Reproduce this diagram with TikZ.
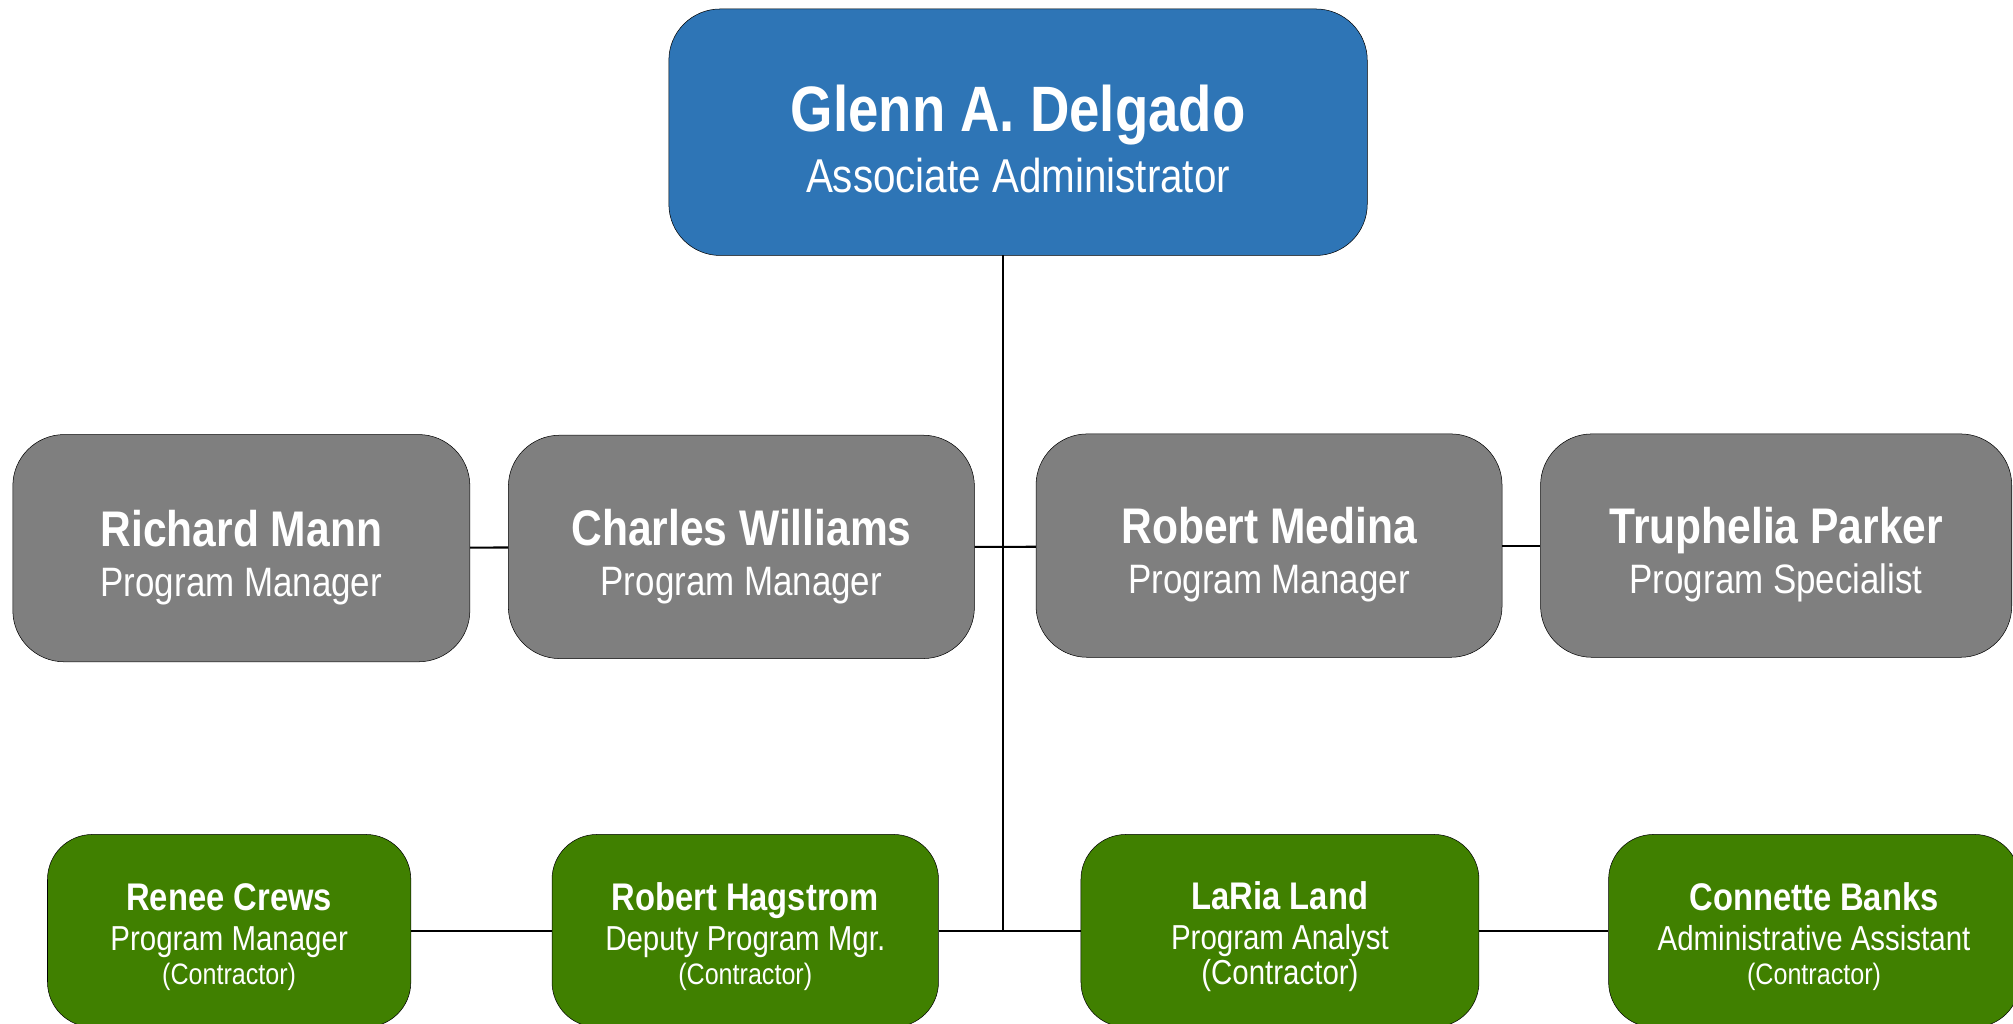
\documentclass[tikz,border=0pt]{standalone}
\usepackage{fontspec}
\setmainfont[FakeStretch=0.85]{Liberation Sans}
\definecolor{bossblue}{HTML}{2E75B6}
\definecolor{staffgray}{HTML}{7F7F7F}
\definecolor{contractgreen}{HTML}{408000}
\begin{document}
\begin{tikzpicture}[x=1pt,y=1pt,
  boss/.style={draw=black,fill=bossblue,text=white,rounded corners=40pt,inner sep=0pt,
    minimum width=544pt,minimum height=192pt,align=center,font=\fontsize{37}{47}\selectfont},
  staff/.style={draw=black,fill=staffgray,text=white,rounded corners=40pt,inner sep=0pt,
    minimum height=174pt,align=center,font=\fontsize{32}{39}\selectfont},
  contract/.style={draw=black,fill=contractgreen,text=white,rounded corners=35pt,inner sep=0pt,
    minimum height=150pt,align=center,font=\fontsize{27}{27}\selectfont},
  link/.style={line width=1.6pt}]
\useasboundingbox (0,0) rectangle (1568,797);
\clip (0,0) rectangle (1568,797);
\node[boss] (delgado) at (793,694) {\rule{0pt}{47pt}{\fontsize{50}{47}\selectfont\bfseries Glenn A. Delgado}\\Associate Administrator};
\node[staff,minimum width=356pt,minimum height=177pt] (mann) at (188,370) {\rule{0pt}{43pt}{\fontsize{39}{39}\selectfont\bfseries Richard Mann}\\Program Manager};
\node[staff,minimum width=363pt] (williams) at (577.5,371) {\rule{0pt}{43pt}{\fontsize{39}{39}\selectfont\bfseries Charles Williams}\\Program Manager};
\node[staff,minimum width=363pt] (medina) at (988.5,372) {\rule{0pt}{43pt}{\fontsize{39}{39}\selectfont\bfseries Robert Medina}\\Program Manager};
\node[staff,minimum width=367pt] (parker) at (1383.5,372) {\rule{0pt}{43pt}{\fontsize{39}{39}\selectfont\bfseries Truphelia Parker}\\Program Specialist};
\node[contract,minimum width=283pt] (crews) at (178.5,72) {\rule{0pt}{31pt}{\fontsize{30}{27}\selectfont\bfseries Renee Crews}\\[4pt]Program Manager\\{\fontsize{23}{27}\selectfont (Contractor)}};
\node[contract,minimum width=301pt] (hagstrom) at (580.5,72) {\rule{0pt}{31pt}{\fontsize{30}{27}\selectfont\bfseries Robert Hagstrom}\\[4pt]Deputy Program Mgr.\\{\fontsize{23}{27}\selectfont (Contractor)}};
\node[contract,minimum width=310pt] (land) at (997,72) {\rule{0pt}{31pt}{\fontsize{30}{27}\selectfont\bfseries LaRia Land}\\[4pt]Program Analyst\\(Contractor)};
\node[contract,minimum width=320pt] (banks) at (1413,72) {\rule{0pt}{31pt}{\fontsize{30}{27}\selectfont\bfseries Connette Banks}\\[4pt]Administrative Assistant\\{\fontsize{23}{27}\selectfont (Contractor)}};
\coordinate (spinetop) at (781,598);
\coordinate (spinemid) at (781,371);
\coordinate (spinelow) at (781,72);
\draw[link] (spinetop) -- (spinelow);
\draw[link] (mann) -- (williams);
\draw[link] (williams) -- (spinemid) -- (medina);
\draw[link] (medina) -- (parker);
\draw[link] (crews) -- (hagstrom);
\draw[link] (hagstrom) -- (land);
\draw[link] (land) -- (banks);
\end{tikzpicture}
\end{document}
